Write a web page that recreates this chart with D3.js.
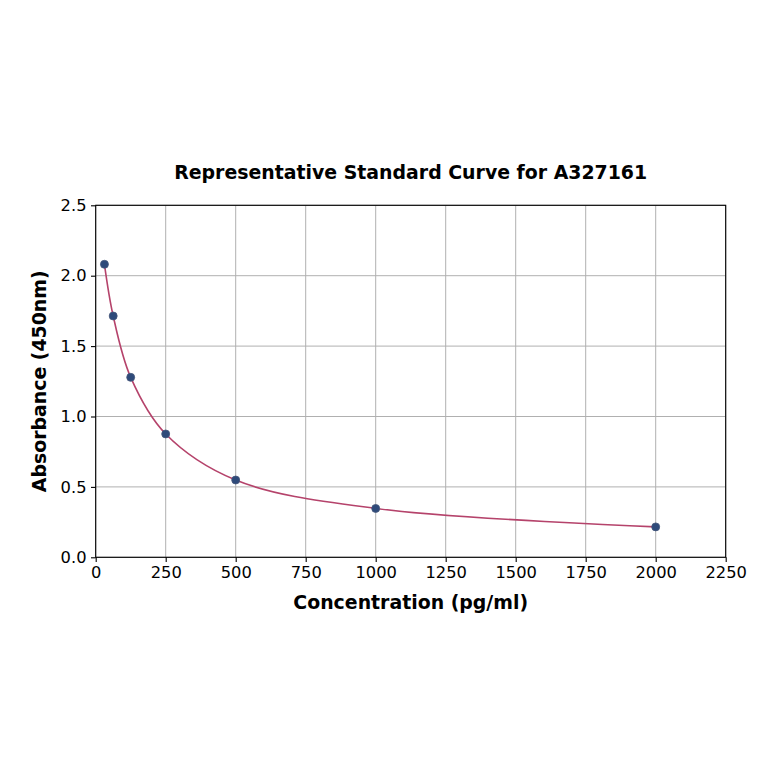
<!DOCTYPE html>
<html>
<head>
<meta charset="utf-8">
<script src="https://cdn.jsdelivr.net/npm/d3@7"></script>
<style>
  body { margin: 0; background: #fff; }
  svg { display: block; font-family: "DejaVu Sans", sans-serif; }
</style>
</head>
<body>
<svg id="chart" width="764" height="764"></svg>
<script>
// standard concentrations (pg/ml) and measured absorbance
const concentrations = [31.25, 62.5, 125, 250, 500, 1000, 2000];
const absorbance = [2.081, 1.714, 1.278, 0.876, 0.549, 0.347, 0.216];
const xTicks = [0, 250, 500, 750, 1000, 1250, 1500, 1750, 2000, 2250];
const yTicks = [0.0, 0.5, 1.0, 1.5, 2.0, 2.5];

const svg = d3.select("#chart");
const margin = { top: 205.3, right: 764 - 725.7, bottom: 764 - 557.3, left: 95.7 };
const width = 764, height = 764;
const innerWidth = width - margin.left - margin.right;
const innerHeight = height - margin.top - margin.bottom;

const g = svg.append("g")
    .attr("transform", `translate(${margin.left},${margin.top})`);

const x = d3.scaleLinear().domain([0, 2250]).range([0, innerWidth]);
const y = d3.scaleLinear().domain([0, 2.5]).range([innerHeight, 0]);

const data = concentrations.map((c, i) => ({ c: c, a: absorbance[i] }));

// GRID
g.append("g")
    .selectAll("line")
    .data(xTicks)
    .enter().append("line")
    .attr("x1", d => x(d)).attr("x2", d => x(d))
    .attr("y1", 0).attr("y2", innerHeight)
    .attr("stroke", "#b0b0b0").attr("stroke-width", 1);

g.append("g")
    .selectAll("line")
    .data(yTicks)
    .enter().append("line")
    .attr("x1", 0).attr("x2", innerWidth)
    .attr("y1", d => y(d)).attr("y2", d => y(d))
    .attr("stroke", "#b0b0b0").attr("stroke-width", 1);

// AXES
const xAxis = g.append("g")
    .attr("transform", `translate(0,${innerHeight})`)
    .call(d3.axisBottom(x).tickValues(xTicks).tickFormat(d3.format("d")).tickSize(4.7).tickPadding(4.5).tickSizeOuter(0));

const yAxis = g.append("g")
    .call(d3.axisLeft(y).tickValues(yTicks).tickFormat(d3.format(".1f")).tickSize(4.7).tickPadding(4.5).tickSizeOuter(0));

[xAxis, yAxis].forEach(a => {
    a.attr("font-size", 16.3).attr("font-family", "DejaVu Sans, sans-serif");
    a.select(".domain").remove();
    a.selectAll("line").attr("stroke", "#000").attr("stroke-width", 1.1);
    a.selectAll("text").attr("fill", "#000");
});

// frame
g.append("rect")
    .attr("x", 0).attr("y", 0)
    .attr("width", innerWidth).attr("height", innerHeight)
    .attr("fill", "none").attr("stroke", "#000").attr("stroke-width", 1.1);

// CURVE
const line = d3.line()
    .x(d => x(d.c))
    .y(d => y(d.a))
    .curve(d3.curveCatmullRom.alpha(0.5));

g.append("path")
    .datum(data)
    .attr("fill", "none")
    .attr("stroke", "#b5436b")
    .attr("stroke-width", 1.6)
    .attr("d", line);

// POINTS
g.selectAll(".pt")
    .data(data)
    .enter().append("circle")
    .attr("class", "pt")
    .attr("cx", d => x(d.c))
    .attr("cy", d => y(d.a))
    .attr("r", 4)
    .attr("fill", "#2e4a7a")
    .attr("stroke", "#45577a")
    .attr("stroke-width", 0.8);

// LABELS
svg.append("text")
    .attr("x", margin.left + innerWidth / 2)
    .attr("y", 179)
    .attr("text-anchor", "middle")
    .style("font-size", "18.9px")
    .style("font-weight", "bold")
    .text("Representative Standard Curve for A327161");

svg.append("text")
    .attr("x", margin.left + innerWidth / 2)
    .attr("y", 609)
    .attr("text-anchor", "middle")
    .style("font-size", "18.9px")
    .style("font-weight", "bold")
    .text("Concentration (pg/ml)");

svg.append("text")
    .attr("transform", `translate(46,${margin.top + innerHeight / 2}) rotate(-90)`)
    .attr("text-anchor", "middle")
    .style("font-size", "18.9px")
    .style("font-weight", "bold")
    .text("Absorbance (450nm)");
</script>
</body>
</html>
